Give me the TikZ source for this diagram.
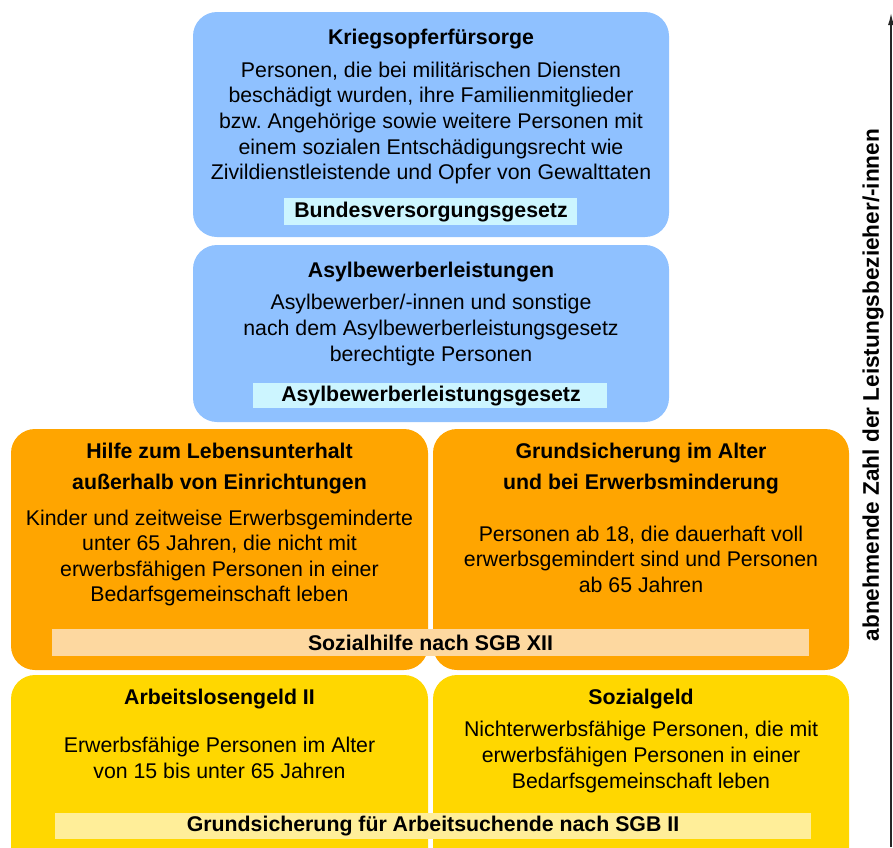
\documentclass[tikz,border=0pt]{standalone}
\usepackage{fontspec}
\setmainfont{Liberation Sans}
\frenchspacing
\usetikzlibrary{arrows.meta}
\definecolor{boxblue}{HTML}{8FC1FF}
\definecolor{labblue}{HTML}{CCF5FF}
\definecolor{boxorange}{HTML}{FFA500}
\definecolor{laborange}{HTML}{FDD8A0}
\definecolor{boxyellow}{HTML}{FFD700}
\definecolor{labyellow}{HTML}{FFEE99}
\tikzset{
  panel/.style={rounded corners=24pt},
  lawlabel/.style={font=\bfseries\fontsize{21.3}{25}\selectfont, inner sep=0pt},
  ttl/.style={font=\bfseries\fontsize{21.3}{31}\selectfont, align=center, inner sep=0pt},
  body/.style={font=\fontsize{21.3}{25.6}\selectfont, align=center, inner sep=0pt},
}
\begin{document}
\frenchspacing
\begin{tikzpicture}[x=1pt,y=-1pt]
\useasboundingbox (0,0) rectangle (893,847);
\begin{scope}
\clip (0,0) rectangle (893,847);
% panels
\fill[boxblue,panel] (193,12) rectangle (669,237);
\fill[boxblue,panel] (193,245) rectangle (669,422);
\fill[boxorange,panel] (11,429) rectangle (428,670);
\fill[boxorange,panel] (433,429) rectangle (849,670);
\fill[boxyellow,panel] (11,675) rectangle (428,880);
\fill[boxyellow,panel] (433,675) rectangle (849,880);
\end{scope}
% law label strips
\fill[labblue] (284,198) rectangle (577,225);
\fill[labblue] (253,383) rectangle (607,408);
\fill[laborange] (52,629) rectangle (809,656);
\fill[labyellow] (55,813) rectangle (811,839);
\node[lawlabel] (l1) at (431,212) {Bundesversorgungsgesetz};
\node[lawlabel] (l2) at (431,396) {Asylbewerberleistungsgesetz};
\node[lawlabel] (l3) at (430.5,643) {Sozialhilfe nach SGB XII};
\node[lawlabel] (l4) at (433,826) {Grundsicherung für Arbeitsuchende nach SGB II};
% blue 1
\node[ttl] (t1) at (431,39) {Kriegsopferfürsorge};
\node[body] (b1) at (431,123) {Personen, die bei militärischen Diensten\\beschädigt wurden, ihre Familienmitglieder\\bzw. Angehörige sowie weitere Personen mit\\einem sozialen Entschädigungsrecht wie\\Zivildienstleistende und Opfer von Gewalttaten};
% blue 2
\node[ttl] (t2) at (431,272) {Asylbewerberleistungen};
\node[body] (b2) at (431,330) {Asylbewerber/-innen und sonstige\\nach dem Asylbewerberleistungsgesetz\\berechtigte Personen};
% orange
\node[ttl] (t3) at (219.5,469) {Hilfe zum Lebensunterhalt\\außerhalb von Einrichtungen};
\node[body] (b3) at (219.5,558) {Kinder und zeitweise Erwerbsgeminderte\\unter 65 Jahren, die nicht mit\\erwerbsfähigen Personen in einer\\Bedarfsgemeinschaft leben};
\node[ttl] (t4) at (641,469) {Grundsicherung im Alter\\und bei Erwerbsminderung};
\node[body] (b4) at (641,559) {Personen ab 18, die dauerhaft voll\\erwerbsgemindert sind und Personen\\ab 65 Jahren};
% yellow
\node[ttl] (t5) at (219.5,699) {Arbeitslosengeld II};
\node[body] (b5) at (219.5,758) {Erwerbsfähige Personen im Alter\\von 15 bis unter 65 Jahren};
\node[ttl] (t6) at (641,699) {Sozialgeld};
\node[body] (b6) at (641,757) {Nichterwerbsfähige Personen, die mit\\erwerbsfähigen Personen in einer\\Bedarfsgemeinschaft leben};
% side axis
\node[font=\bfseries\fontsize{22.6}{26}\selectfont, rotate=90, inner sep=0pt] (ax) at (873,385) {abnehmende Zahl der Leistungsbezieher/-innen};
\coordinate (abot) at (891,847);
\coordinate (atop) at (891,13);
\draw[line width=1.4pt, draw=black!85, -{Latex[length=12pt,width=6pt]}] (abot) -- (atop);
\end{tikzpicture}
\end{document}
